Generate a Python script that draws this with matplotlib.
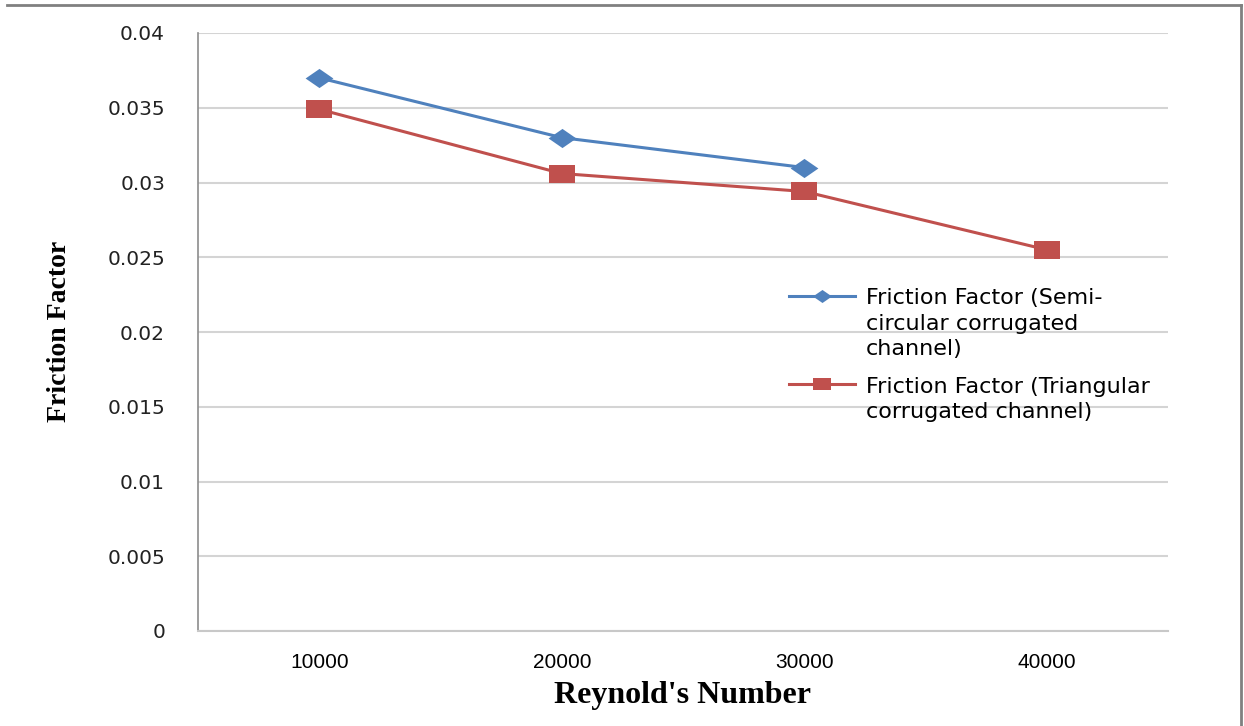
import numpy as np
import matplotlib.pyplot as plt
from matplotlib.lines import Line2D

# Data
reynolds = ["10000", "20000", "30000", "40000"]
semi_circular = [0.0370, 0.0330, 0.0310]
triangular = [0.0349, 0.0306, 0.0294, 0.0255]
y_ticks = [0, 0.005, 0.01, 0.015, 0.02, 0.025, 0.03, 0.035, 0.04]
y_tick_labels = ["0", "0.005", "0.01", "0.015", "0.02", "0.025", "0.03", "0.035", "0.04"]

blue = "#4F81BD"
red = "#C0504D"

# Wide markers (the chart is rendered a bit stretched horizontally)
diamond = [(0, 1), (1.45, 0), (0, -1), (-1.45, 0), (0, 1)]
square = [(-1.55, -1), (1.55, -1), (1.55, 1), (-1.55, 1), (-1.55, -1)]

fig = plt.figure(figsize=(12.44, 7.26), dpi=100)
ax = fig.add_axes([198/1244, 95/726, 970/1244, 598/726])

x = np.arange(len(reynolds))
ax.plot(x[:len(semi_circular)], semi_circular, color=blue, lw=2.2, marker=diamond,
        markersize=20, markeredgewidth=0, zorder=3,
        label="Friction Factor (Semi-\ncircular corrugated\nchannel)")
ax.plot(x, triangular, color=red, lw=2.2, marker=square,
        markersize=19, markeredgewidth=0, zorder=3,
        label="Friction Factor (Triangular\ncorrugated channel)")

# Axes
ax.set_xlim(-0.5, len(reynolds) - 0.5)
ax.set_ylim(0, 0.04)
ax.set_xticks(x)
ax.set_xticklabels(reynolds, family="Liberation Sans", fontsize=15)
ax.set_yticks(y_ticks)
ax.set_yticklabels(y_tick_labels, family="DejaVu Sans", fontsize=14.5, color="#222222")
ax.tick_params(axis="x", length=0, pad=16)
ax.tick_params(axis="y", length=0, pad=33*0.72)
ax.grid(axis="y", color="#d4d4d4", lw=1.5)
ax.set_axisbelow(True)
for side in ["top", "right"]:
    ax.spines[side].set_visible(False)
ax.spines["left"].set_color("#8c8c8c")
ax.spines["bottom"].set_color("#c8c8c8")
ax.spines["left"].set_linewidth(1.2)
ax.spines["bottom"].set_linewidth(1.5)

ax.set_xlabel("Reynold's Number", family="Liberation Serif", weight="bold",
              fontsize=23, labelpad=6)
fig.text(60/1244, 1 - 331/726, "Friction Factor", family="Liberation Serif",
         weight="bold", fontsize=20, rotation=90, ha="center", va="center")

# Legend, with keys lined up on the first line of each label
leg = ax.legend(loc="upper left", bbox_to_anchor=(0.598, 0.592), frameon=False,
                fontsize=16, handlelength=2.95, handletextpad=0.5, labelspacing=0.78,
                borderpad=0, markerscale=0.68)
for t in leg.get_texts():
    t.set_linespacing(1.35)
for column in leg.get_children()[0].get_children()[1].get_children():
    for row in column.get_children():
        row.align = "top"

# Outer frame
fig.add_artist(Line2D([7/1244, 1241/1244], [1 - 5/726, 1 - 5/726],
                      transform=fig.transFigure, color="#808080", lw=2))
fig.add_artist(Line2D([1241/1244, 1241/1244], [1 - 5/726, 0],
                      transform=fig.transFigure, color="#808080", lw=2))

fig.savefig("out.png", dpi=100)
